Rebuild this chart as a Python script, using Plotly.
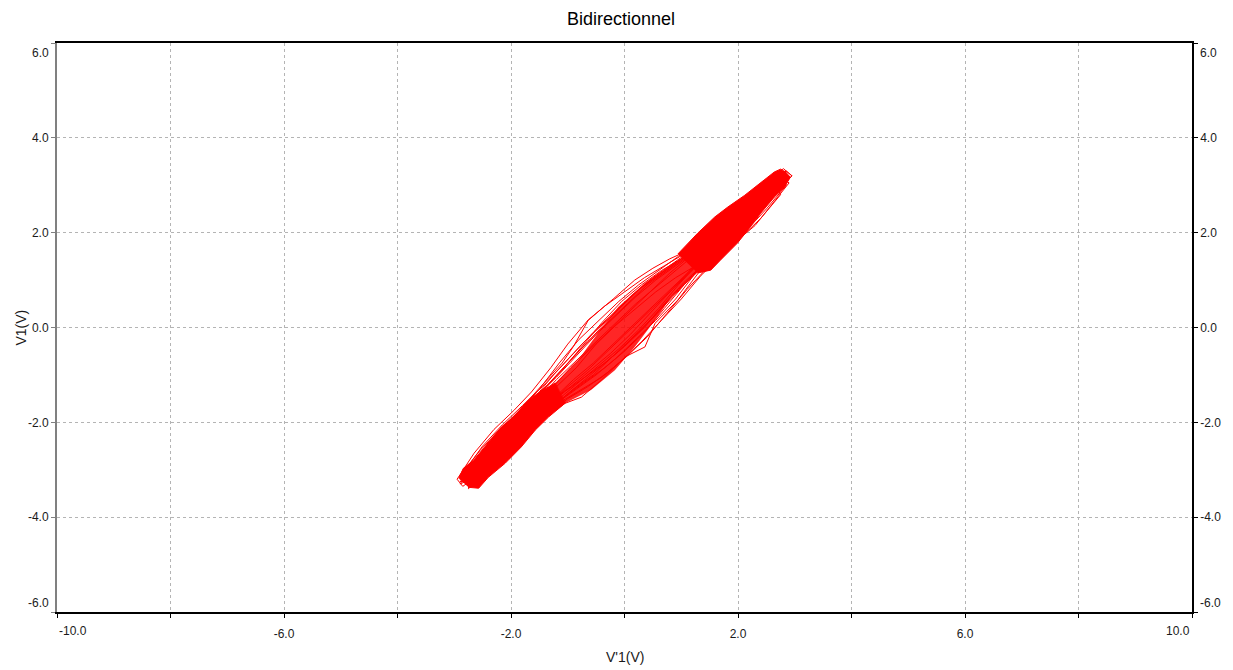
import plotly.graph_objects as go

# ---- data: V'1 (x) and V1 (y), traced loop by loop ----
loop1_x = [-2.80,-2.45,-2.10,-1.75,-1.40,-1.05,-0.70,-0.35,0.00,0.35,0.70,1.05,1.40,1.75,2.10,2.45,2.80,
           2.65,2.30,1.95,1.60,1.25,0.90,0.55,0.20,-0.15,-0.50,-0.85,-1.20,-1.55,-1.90,-2.25,-2.60]
loop1_y = [-3.25,-2.90,-2.50,-2.10,-1.70,-1.35,-1.05,-0.75,-0.40,0.00,0.50,0.95,1.35,1.75,2.20,2.60,3.10,
           3.20,2.75,2.35,1.95,1.60,1.30,1.00,0.65,0.25,-0.15,-0.60,-1.05,-1.45,-1.85,-2.30,-2.80]

loop2_x = [-2.70,-2.40,-2.05,-1.70,-1.35,-1.00,-0.65,-0.30,0.05,0.40,0.75,1.10,1.45,1.80,2.15,2.50,2.85,
           2.75,2.40,2.05,1.70,1.35,1.00,0.65,0.30,-0.05,-0.40,-0.75,-1.10,-1.45,-1.80,-2.15,-2.50,-2.85]
loop2_y = [-3.30,-2.95,-2.60,-2.20,-1.85,-1.50,-1.25,-0.95,-0.60,-0.20,0.30,0.80,1.25,1.65,2.05,2.50,3.00,
           3.30,2.95,2.55,2.15,1.75,1.45,1.20,0.90,0.55,0.10,-0.40,-0.90,-1.35,-1.80,-2.20,-2.65,-3.10]

loop3_x = [-2.60,-2.30,-1.95,-1.60,-1.25,-0.90,-0.55,-0.20,0.15,0.50,0.85,1.20,1.55,1.90,2.25,2.60,
           2.55,2.20,1.85,1.50,1.15,0.80,0.45,0.10,-0.25,-0.60,-0.95,-1.30,-1.65,-2.00,-2.35,-2.70]
loop3_y = [-3.00,-2.70,-2.30,-1.90,-1.50,-1.10,-0.75,-0.35,0.05,0.45,0.85,1.25,1.65,2.05,2.45,2.85,
           3.05,2.65,2.25,1.85,1.50,1.15,0.75,0.35,-0.05,-0.45,-0.85,-1.30,-1.70,-2.15,-2.55,-3.05]

loop4_x = [-2.90,-2.55,-2.20,-1.85,-1.50,-1.15,-0.80,-0.45,-0.10,0.25,0.60,0.95,1.30,1.65,2.00,2.35,2.70,2.95,
           2.80,2.45,2.10,1.75,1.40,1.05,0.70,0.35,0.00,-0.35,-0.64,-0.80,-0.90,-1.10,-1.40,-1.70,-2.00,-2.35,-2.70]
loop4_y = [-3.20,-2.95,-2.60,-2.25,-1.90,-1.55,-1.20,-0.85,-0.50,-0.10,0.35,0.80,1.20,1.55,1.95,2.40,2.85,3.20,
           3.35,3.00,2.65,2.30,1.90,1.55,1.30,1.05,0.75,0.45,0.15,-0.20,-0.40,-0.75,-1.15,-1.55,-1.95,-2.40,-2.90]

loop5_x = [-2.75,-2.40,-2.05,-1.70,-1.35,-1.05,-0.76,-0.40,0.01,0.36,0.54,0.94,1.34,1.69,2.00,2.30,2.60,2.90,
           2.70,2.35,2.00,1.65,1.30,0.95,0.60,0.25,-0.10,-0.45,-0.80,-1.15,-1.50,-1.85,-2.20,-2.55]
loop5_y = [-3.40,-3.00,-2.60,-2.20,-1.85,-1.60,-1.47,-1.10,-0.62,-0.41,0.09,0.58,1.21,1.45,1.85,2.15,2.60,3.05,
           3.20,2.80,2.40,2.05,1.70,1.40,1.10,0.80,0.40,-0.05,-0.50,-0.95,-1.40,-1.85,-2.30,-2.80]

loop6_x = [-2.55,-2.20,-1.85,-1.50,-1.15,-0.80,-0.45,-0.10,0.25,0.60,0.95,1.30,1.65,2.00,2.35,2.70,
           2.85,2.55,2.20,1.85,1.50,1.17,0.80,0.50,0.18,-0.20,-0.64,-1.00,-1.30,-1.64,-1.95,-2.30,-2.65,-2.95]
loop6_y = [-3.05,-2.70,-2.30,-1.90,-1.50,-1.15,-0.80,-0.45,-0.05,0.40,0.90,1.35,1.80,2.20,2.65,3.10,
           3.30,3.15,2.80,2.45,2.05,1.65,1.45,1.25,1.00,0.60,0.16,-0.35,-0.85,-1.36,-1.75,-2.15,-2.65,-3.20]

loop7_x = [-2.85,-2.50,-2.15,-1.80,-1.45,-1.10,-0.75,-0.40,-0.05,0.30,0.65,1.00,1.35,1.70,2.05,2.40,2.75,
           2.60,2.25,1.90,1.55,1.20,0.85,0.50,0.15,-0.20,-0.55,-0.90,-1.25,-1.60,-1.95,-2.30,-2.65]
loop7_y = [-3.35,-3.05,-2.70,-2.30,-1.95,-1.55,-1.30,-1.05,-0.70,-0.30,0.15,0.60,1.10,1.50,1.90,2.30,2.80,
           3.15,2.80,2.40,2.00,1.65,1.35,1.05,0.70,0.30,-0.10,-0.55,-1.00,-1.50,-1.90,-2.40,-2.90]

loop8_x = [-2.65,-2.30,-1.95,-1.60,-1.25,-0.90,-0.55,-0.20,0.15,0.50,0.85,1.20,1.55,1.90,2.25,2.60,2.90,
           2.75,2.40,2.05,1.70,1.35,1.00,0.65,0.30,-0.05,-0.40,-0.75,-1.10,-1.45,-1.80,-2.15,-2.50,-2.80]
loop8_y = [-3.15,-2.80,-2.45,-2.05,-1.65,-1.30,-1.00,-0.60,-0.20,0.20,0.65,1.10,1.50,1.85,2.25,2.75,3.15,
           3.25,2.85,2.45,2.05,1.70,1.45,1.15,0.85,0.45,0.05,-0.35,-0.80,-1.25,-1.65,-2.05,-2.50,-3.00]

loop9_x = [-2.70,-2.35,-2.00,-1.65,-1.30,-0.95,-0.60,-0.25,0.10,0.45,0.80,1.15,1.50,1.85,2.20,2.55,2.85,
           2.95,2.65,2.30,1.95,1.60,1.25,0.90,0.55,0.20,-0.15,-0.50,-0.85,-1.20,-1.55,-1.90,-2.25,-2.60,-2.90]
loop9_y = [-3.20,-2.85,-2.40,-1.95,-1.55,-1.25,-0.90,-0.55,-0.15,0.30,0.75,1.20,1.65,2.05,2.45,2.90,3.30,
           3.20,2.80,2.35,1.95,1.55,1.30,1.05,0.75,0.40,0.05,-0.35,-0.85,-1.25,-1.65,-2.00,-2.45,-2.95,-3.25]

loop10_x = [-2.60,-2.25,-1.90,-1.55,-1.20,-0.85,-0.50,-0.15,0.20,0.55,0.90,1.25,1.60,1.95,2.30,2.65,
            2.50,2.15,1.80,1.45,1.10,0.75,0.40,0.05,-0.30,-0.65,-1.00,-1.35,-1.70,-2.05,-2.40,-2.75]
loop10_y = [-3.25,-2.85,-2.40,-2.00,-1.60,-1.30,-1.00,-0.65,-0.25,0.15,0.60,1.15,1.55,1.95,2.40,2.90,
            3.00,2.60,2.20,1.80,1.50,1.20,0.90,0.50,0.10,-0.30,-0.75,-1.20,-1.60,-2.00,-2.45,-3.15]

loop11_x = [-2.80,-2.45,-2.10,-1.75,-1.40,-1.05,-0.70,-0.35,0.00,0.35,0.70,1.05,1.40,1.75,2.10,2.45,2.80,
            2.70,2.35,2.00,1.65,1.30,0.95,0.60,0.25,-0.10,-0.45,-0.80,-1.15,-1.50,-1.85,-2.20,-2.55,-2.85]
loop11_y = [-3.30,-2.95,-2.55,-2.15,-1.80,-1.45,-1.15,-0.85,-0.50,-0.10,0.40,0.90,1.30,1.70,2.10,2.55,3.00,
            3.30,2.90,2.50,2.15,1.80,1.50,1.20,0.90,0.55,0.15,-0.25,-0.75,-1.30,-1.75,-2.15,-2.60,-3.05]

loop12_x = [-2.75,-2.40,-2.05,-1.70,-1.35,-1.00,-0.65,-0.30,0.05,0.40,0.75,1.10,1.45,1.80,2.15,2.50,2.80,
            2.65,2.30,1.95,1.60,1.25,0.90,0.55,0.20,-0.15,-0.50,-0.85,-1.20,-1.55,-1.90,-2.25,-2.60,-2.90]
loop12_y = [-3.10,-2.80,-2.40,-2.00,-1.65,-1.25,-0.90,-0.50,-0.10,0.30,0.70,1.10,1.50,1.90,2.30,2.75,3.20,
            3.05,2.65,2.25,1.90,1.55,1.20,0.85,0.50,0.10,-0.30,-0.70,-1.10,-1.55,-1.95,-2.40,-2.85,-3.30]

loops_x = [loop1_x, loop2_x, loop3_x, loop4_x, loop5_x, loop6_x,
           loop7_x, loop8_x, loop9_x, loop10_x, loop11_x, loop12_x]
loops_y = [loop1_y, loop2_y, loop3_y, loop4_y, loop5_y, loop6_y,
           loop7_y, loop8_y, loop9_y, loop10_y, loop11_y, loop12_y]

# outlines of the regions where the trace is so dense that it reads as solid red
low_band_x = [-2.92,-2.84,-2.66,-2.40,-2.17,-1.92,-1.69,-1.52,-1.22,
              -1.04,-1.34,-1.57,-1.82,-2.10,-2.40,-2.57,-2.75]
low_band_y = [-3.18,-2.97,-2.80,-2.42,-2.10,-1.85,-1.53,-1.38,-1.17,
              -1.59,-1.89,-2.16,-2.52,-2.86,-3.16,-3.39,-3.37]

high_band_x = [0.94,1.29,1.59,1.82,2.12,2.40,2.64,2.75,2.84,
               2.92,2.82,2.64,2.40,2.17,1.99,1.69,1.52,1.29]
high_band_y = [1.55,1.99,2.33,2.54,2.79,3.05,3.28,3.34,3.28,
               3.17,2.96,2.75,2.41,2.05,1.78,1.42,1.21,1.15]

core_x = [-1.22,-0.82,-0.47,-0.11,0.36,0.82,1.17,
          1.29,0.82,0.54,0.18,-0.17,-0.59,-1.04]
core_y = [-1.17,-0.69,-0.12,0.43,0.94,1.32,1.57,
          1.21,0.64,0.16,-0.41,-0.90,-1.32,-1.59]

x_grid = [-10, -8, -6, -4, -2, 0, 2, 4, 6, 8, 10]
x_text = ["", "", "-6.0", "", "-2.0", "", "2.0", "", "6.0", "", ""]
y_grid = [-6, -4, -2, 0, 2, 4, 6]
y_text = ["", "-4.0", "-2.0", "0.0", "2.0", "4.0", ""]

title_text = "Bidirectionnel"
x_title = "V'1(V)"
y_title = "V1(V)"

# ---- build figure ----
xs, ys = [], []
for lx, ly in zip(loops_x, loops_y):
    xs += lx
    ys += ly
xs.append(loops_x[0][0])
ys.append(loops_y[0][0])

RED = "#ff0000"
TICKFONT = dict(family="Liberation Sans Narrow, Arial Narrow, Liberation Sans, Arial", size=12, color="#1a1a1a")

fig = go.Figure()
fig.add_trace(go.Scatter(x=core_x, y=core_y, mode="lines", fill="toself",
                         fillcolor="rgba(255,0,0,0.85)", line=dict(width=0),
                         showlegend=False, hoverinfo="skip"))
fig.add_trace(go.Scatter(x=low_band_x, y=low_band_y, mode="lines", fill="toself",
                         fillcolor=RED, line=dict(color=RED, width=1),
                         showlegend=False, hoverinfo="skip"))
fig.add_trace(go.Scatter(x=high_band_x, y=high_band_y, mode="lines", fill="toself",
                         fillcolor=RED, line=dict(color=RED, width=1),
                         showlegend=False, hoverinfo="skip"))
fig.add_trace(go.Scatter(x=xs, y=ys, mode="lines",
                         line=dict(color=RED, width=1), showlegend=False,
                         hoverinfo="skip"))
fig.add_trace(go.Scatter(x=[None], y=[None], yaxis="y2", showlegend=False, hoverinfo="skip"))

fig.update_layout(
    width=1233, height=670,
    margin=dict(l=57, r=37, t=43, b=58),
    paper_bgcolor="white", plot_bgcolor="white",
    title=dict(text=title_text, x=621 / 1233, xref="container", y=1 - 19 / 670, yref="container",
               xanchor="center", yanchor="middle",
               font=dict(family="Liberation Sans, Arial", size=18, color="#000000")),
    xaxis=dict(range=[-10, 10], tickmode="array", tickvals=x_grid, ticktext=x_text,
               showgrid=True, gridcolor="#b4b4b4", griddash="3px,3px", gridwidth=1,
               zeroline=False, showline=True, linecolor="#000000", linewidth=2, mirror=True,
               ticks="outside", ticklen=4, tickcolor="#000000", tickwidth=1,
               tickfont=TICKFONT, ticklabelstandoff=6, fixedrange=True),
    yaxis=dict(range=[-6, 6], tickmode="array", tickvals=y_grid, ticktext=y_text,
               showgrid=True, gridcolor="#b4b4b4", griddash="3px,3px", gridwidth=1,
               zeroline=False, showline=True, linecolor="#808080", linewidth=2,
               ticks="outside", ticklen=4, tickcolor="#808080", tickwidth=1,
               tickfont=TICKFONT, fixedrange=True),
    yaxis2=dict(range=[-6, 6], overlaying="y", side="right", tickmode="array",
                tickvals=y_grid, ticktext=y_text, showgrid=False, zeroline=False,
                showline=True, linecolor="#000000", linewidth=1.5,
                ticks="outside", ticklen=4, tickcolor="#000000", tickwidth=1,
                tickfont=TICKFONT, fixedrange=True),
)

ann = []
ann.append(dict(x=-10, y=-6, xref="x", yref="y", text="-10.0", xanchor="left", yanchor="middle",
                yshift=-19, showarrow=False, font=TICKFONT))
ann.append(dict(x=10, y=-6, xref="x", yref="y", text="10.0", xanchor="right", yanchor="middle",
                yshift=-19, showarrow=False, font=TICKFONT))
ann.append(dict(x=-10, y=6, xref="x", yref="y", text="6.0", xanchor="right", yanchor="middle",
                xshift=-6, yshift=-10, showarrow=False, font=TICKFONT))
ann.append(dict(x=-10, y=-6, xref="x", yref="y", text="-6.0", xanchor="right", yanchor="middle",
                xshift=-6, yshift=9, showarrow=False, font=TICKFONT))
ann.append(dict(x=10, y=6, xref="x", yref="y", text="6.0", xanchor="left", yanchor="middle",
                xshift=6, yshift=-10, showarrow=False, font=TICKFONT))
ann.append(dict(x=10, y=-6, xref="x", yref="y", text="-6.0", xanchor="left", yanchor="middle",
                xshift=6, yshift=9, showarrow=False, font=TICKFONT))
ann.append(dict(x=0, y=-6, xref="x", yref="y", text=x_title, xanchor="center", yanchor="middle",
                yshift=-45, showarrow=False,
                font=dict(family="Liberation Sans, Arial", size=14, color="#1a1a1a")))
ann.append(dict(x=-10, y=0, xref="x", yref="y", text=y_title, xanchor="center", yanchor="middle",
                xshift=-37, textangle=-90, showarrow=False,
                font=dict(family="Liberation Sans, Arial", size=14, color="#1a1a1a")))
fig.update_layout(annotations=ann)

fig.write_html("out.html")
